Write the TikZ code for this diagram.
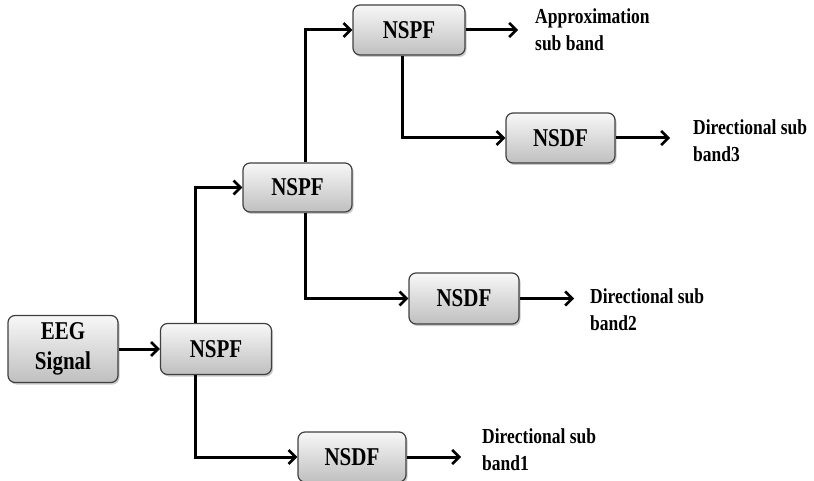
\documentclass[tikz,border=0pt]{standalone}
\usepackage{fontspec}
\setmainfont{Liberation Serif}
\usetikzlibrary{arrows.meta,shadows,calc}
\newcommand\tl[1]{\scalebox{1}[1.22]{#1}}
\begin{document}
\begin{tikzpicture}[x=1pt,y=-1pt,
  blk/.style={draw=black!75, line width=1.2pt, rounded corners=7pt,
    top color=gray!6, bottom color=gray!50, inner sep=0pt,
    drop shadow={shadow xshift=1.5pt, shadow yshift=-2pt, fill=gray!70, opacity=0.6},
    font=\fontsize{21}{30}\selectfont\bfseries, align=center},
  lbl/.style={anchor=west, align=left, inner sep=0pt, font=\fontsize{17.5}{27}\selectfont\bfseries},
  conn/.style={line width=3pt, -{Straight Barb[length=7pt,width=14pt,line width=2.6pt]}}]
\useasboundingbox (0,0) rectangle (814,481);
\node[blk, minimum width=110pt, minimum height=67pt] (eeg) at (63,349) {\tl{EEG}\\\tl{Signal}};
\node[blk, minimum width=111pt, minimum height=51pt] (nspf1) at (216,349) {\tl{NSPF}};
\node[blk, minimum width=109pt, minimum height=49pt] (nspf2) at (297.5,187.5) {\tl{NSPF}};
\node[blk, minimum width=112pt, minimum height=50pt] (nspf3) at (409,30) {\tl{NSPF}};
\node[blk, minimum width=108pt, minimum height=50pt] (nsdf1) at (352,457) {\tl{NSDF}};
\node[blk, minimum width=110pt, minimum height=51pt] (nsdf2) at (464,298.5) {\tl{NSDF}};
\node[blk, minimum width=109pt, minimum height=50pt] (nsdf3) at (560.5,138) {\tl{NSDF}};
\coordinate (v1) at (195,0);
\coordinate (v2) at (305,0);
\coordinate (v3) at (402,0);
\coordinate (o3) at (518,30);
\coordinate (d3) at (670,138);
\coordinate (d2) at (574,298.5);
\coordinate (d1) at (461,457);
\node[lbl] (la) at (535,30) {\tl{Approximation}\\\tl{sub band}};
\node[lbl] (l3) at (693,141) {\tl{Directional sub}\\\tl{band3}};
\node[lbl] (l2) at (590,310) {\tl{Directional sub}\\\tl{band2}};
\node[lbl] (l1) at (482,450) {\tl{Directional sub}\\\tl{band1}};
\draw[conn] (eeg.east) -- (nspf1.west);
\draw[conn] (nspf1.north -| v1) |- (nspf2.west);
\draw[conn] (nspf1.south -| v1) |- (nsdf1.west);
\draw[conn] (nspf2.north -| v2) |- (nspf3.west);
\draw[conn] (nspf2.south -| v2) |- (nsdf2.west);
\draw[conn] (nspf3.south -| v3) |- (nsdf3.west);
\draw[conn] (nspf3.east) -- (o3);
\draw[conn] (nsdf3.east) -- (d3);
\draw[conn] (nsdf2.east) -- (d2);
\draw[conn] (nsdf1.east) -- (d1);
\end{tikzpicture}
\end{document}
